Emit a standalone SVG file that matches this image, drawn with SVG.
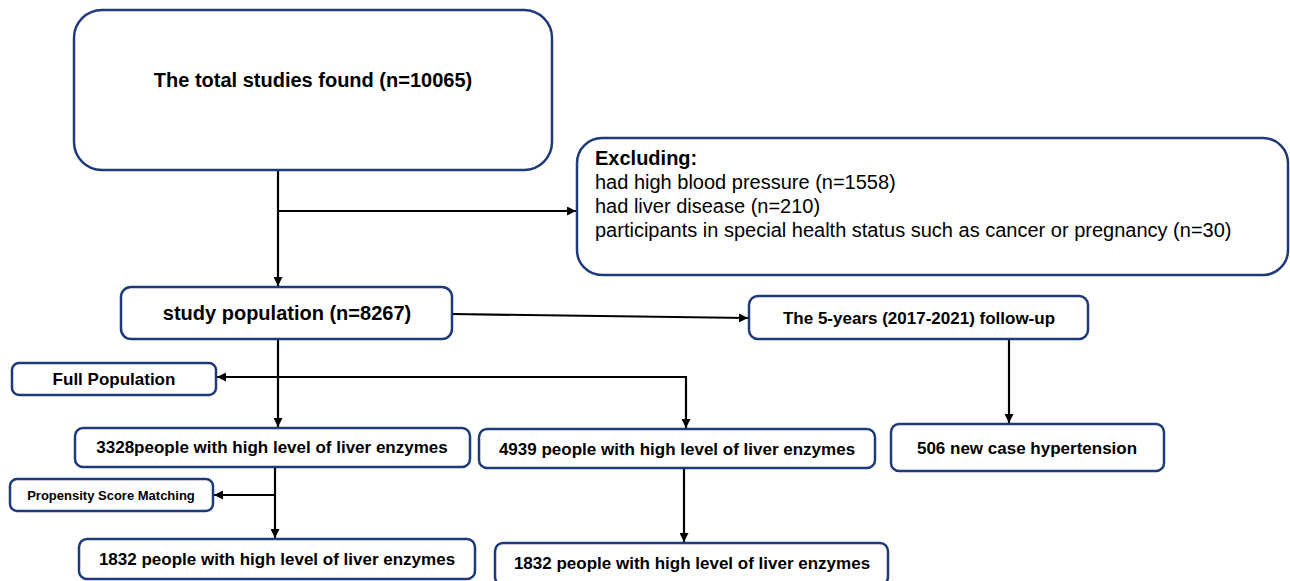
<svg xmlns="http://www.w3.org/2000/svg" width="1290" height="581" viewBox="0 0 1290 581">
<style>
.box{fill:#fff;stroke:#1f3a7a;stroke-width:2.5}
.t{font-family:"Liberation Sans",Arial,sans-serif;font-weight:bold;fill:#000;text-anchor:middle}
.n{font-family:"Liberation Sans",Arial,sans-serif;fill:#000;font-size:20px}
.c{fill:none;stroke:#000;stroke-width:2.2}
</style>
<defs>
<marker id="ah" viewBox="0 0 10 10" refX="10" refY="5" markerWidth="9" markerHeight="9" markerUnits="userSpaceOnUse" orient="auto">
<path d="M0,0 L10,5 L0,10 z" fill="#000"/>
</marker>
</defs>
<rect width="1290" height="581" fill="#fff"/>
<g id="connectors">
<path class="c" d="M278,170 V286" marker-end="url(#ah)"/>
<path class="c" d="M278,211 H576" marker-end="url(#ah)"/>
<path class="c" d="M452,314 L748,318" marker-end="url(#ah)"/>
<path class="c" d="M278,339 V427" marker-end="url(#ah)"/>
<path class="c" d="M686,377 H217" marker-end="url(#ah)"/>
<path class="c" d="M686,376 V428" marker-end="url(#ah)"/>
<path class="c" d="M275,467 V538" marker-end="url(#ah)"/>
<path class="c" d="M275,495 H214" marker-end="url(#ah)"/>
<path class="c" d="M684,468 V542" marker-end="url(#ah)"/>
<path class="c" d="M1009,339 V423" marker-end="url(#ah)"/>
</g>
<g id="n-total">
<rect class="box" x="74" y="10" width="478" height="160" rx="28"/>
<text class="t" x="313" y="87" font-size="20">The total studies found (n=10065)</text>
</g>
<g id="n-excluding">
<rect class="box" x="577" y="138" width="711" height="137" rx="25"/>
<text class="n" x="595" y="165" font-weight="bold">Excluding:</text>
<text class="n" x="595" y="189">had high blood pressure (n=1558)</text>
<text class="n" x="595" y="213">had liver disease (n=210)</text>
<text class="n" x="595" y="237">participants in special health status such as cancer or pregnancy (n=30)</text>
</g>
<g id="n-study">
<rect class="box" x="121" y="287" width="331" height="52" rx="10"/>
<text class="t" x="287" y="320" font-size="20">study population (n=8267)</text>
</g>
<g id="n-followup">
<rect class="box" x="749" y="296" width="339" height="43" rx="9"/>
<text class="t" x="919" y="324" font-size="17">The 5-years (2017-2021) follow-up</text>
</g>
<g id="n-full">
<rect class="box" x="12" y="363" width="204" height="32" rx="7"/>
<text class="t" x="114" y="385" font-size="17">Full Population</text>
</g>
<g id="n-3328">
<rect class="box" x="75" y="428" width="395" height="39" rx="8"/>
<text class="t" x="272" y="453" font-size="17">3328people with high level of liver enzymes</text>
</g>
<g id="n-4939">
<rect class="box" x="479" y="429" width="396" height="39" rx="8"/>
<text class="t" x="677" y="455" font-size="17">4939 people with high level of liver enzymes</text>
</g>
<g id="n-506">
<rect class="box" x="891" y="424" width="273" height="47" rx="8"/>
<text class="t" x="1027" y="454" font-size="17">506 new case hypertension</text>
</g>
<g id="n-psm">
<rect class="box" x="10" y="479" width="203" height="32" rx="7"/>
<text class="t" x="111" y="500" font-size="13">Propensity Score Matching</text>
</g>
<g id="n-1832a">
<rect class="box" x="79" y="539" width="396" height="40" rx="8"/>
<text class="t" x="277" y="565" font-size="17">1832 people with high level of liver enzymes</text>
</g>
<g id="n-1832b">
<rect class="box" x="495" y="543" width="393" height="42" rx="8"/>
<text class="t" x="692" y="569" font-size="17">1832 people with high level of liver enzymes</text>
</g>
</svg>
